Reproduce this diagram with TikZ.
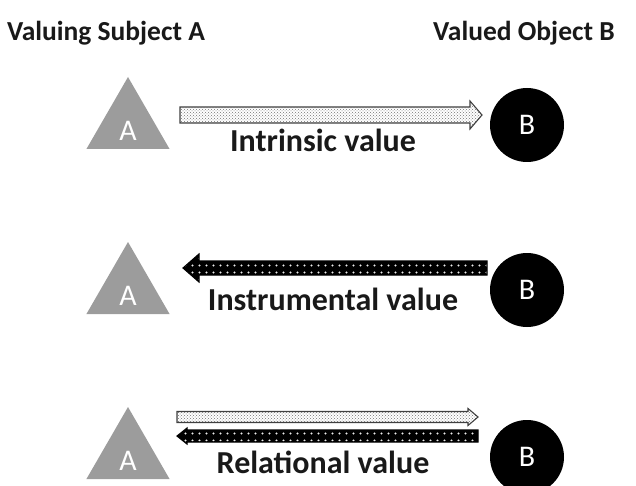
\documentclass[tikz,border=0pt]{standalone}
\usepackage{fontspec}
\setmainfont{Carlito}
\usetikzlibrary{calc,patterns,patterns.meta,shapes.geometric}
\tikzdeclarepattern{
  name=sparsedots,
  type=uncolored,
  bottom left={(-.1pt,-.1pt)},
  top right={(7.1pt,7.1pt)},
  tile size={(7pt,7pt)},
  code={\fill (3.5pt,3.5pt) circle (1.1pt);}
}
\newcommand\blockarrow[6]{%
  \coordinate (hb) at ($(#3)!#6!(#2)$);
  \path[#1] ($(#2)!#4!90:(#3)$) -- ($(hb)!#4!90:(#3)$) -- ($(hb)!#5!90:(#3)$)
    -- (#3) -- ($(hb)!#5!-90:(#3)$) -- ($(hb)!#4!-90:(#3)$) -- ($(#2)!#4!-90:(#3)$) -- cycle;
}
\tikzset{
  title/.style={font=\bfseries\fontsize{27.5}{30}\selectfont, text=black!90, anchor=base, inner sep=0},
  lab/.style={font=\bfseries\fontsize{32}{35}\selectfont, text=black!90, anchor=base, inner sep=0},
  tri/.style={regular polygon, regular polygon sides=3, minimum size=96pt, inner sep=0, fill=gray!78, draw=none},
  circ/.style={circle, minimum size=74pt, inner sep=0, fill=black, text=white, font=\fontsize{30}{32}\selectfont},
  letA/.style={text=white, font=\fontsize{30}{32}\selectfont, inner sep=0},
  lightarrow/.style={preaction={fill=white}, pattern=crosshatch dots, pattern color=black!55, draw=black!75, line width=1.1pt, line join=miter},
  darkarrow/.style={preaction={fill=black}, pattern=sparsedots, pattern color=white!85!gray, draw=black, line width=1.1pt, line join=miter}
}
\begin{document}
\begin{tikzpicture}[x=1pt,y=-1pt]
\useasboundingbox (0,0) rectangle (636,486);
\node[title] (t1) at (106,41) {Valuing Subject A};
\node[title] (t2) at (524,41) {Valued Object B};
% row 1
\node[tri] (a1) at (128,125) {};
\node[letA] (la1) at (128,131) {A};
\node[circ] (b1) at (527,125) {B};
\coordinate (s1) at (180,115);
\coordinate (e1) at (482,115);
\blockarrow{lightarrow}{s1}{e1}{8pt}{14pt}{12pt}
\node[lab] (l1) at (323,152) {Intrinsic value};
% row 2
\node[tri] (a2) at (128,290) {};
\node[letA] (la2) at (128,296) {A};
\node[circ] (b2) at (527,290) {B};
\coordinate (s2) at (487,268);
\coordinate (e2) at (183,268);
\blockarrow{darkarrow}{s2}{e2}{7pt}{14pt}{16pt}
\node[lab] (l2) at (333,310) {Instrumental value};
% row 3
\node[tri] (a3) at (128,455) {};
\node[letA] (la3) at (128,461) {A};
\node[circ] (b3) at (527,457) {B};
\coordinate (s3) at (177,417);
\coordinate (e3) at (478,417);
\blockarrow{lightarrow}{s3}{e3}{5.5pt}{8.5pt}{10pt}
\coordinate (s4) at (478,436);
\coordinate (e4) at (177,436);
\blockarrow{darkarrow}{s4}{e4}{6pt}{8pt}{10pt}
\node[lab] (l3) at (323,473) {Relational value};
\end{tikzpicture}
\end{document}
